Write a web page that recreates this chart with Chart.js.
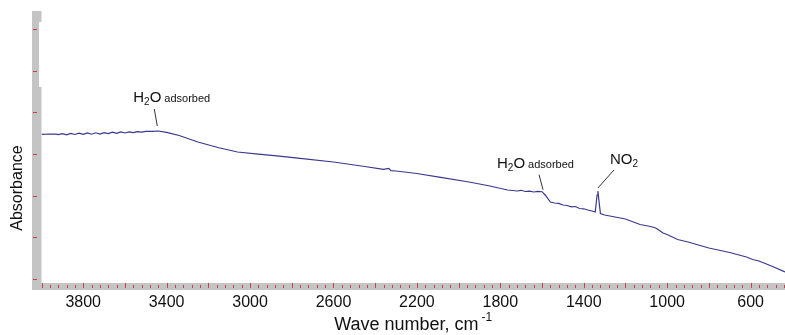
<!DOCTYPE html>
<html>
<head>
<meta charset="utf-8">
<script src="https://cdn.jsdelivr.net/npm/chart.js@4.4.1/dist/chart.umd.min.js"></script>
<style>
html, body { margin: 0; padding: 0; background: #fff; }
canvas { display: block; }
</style>
</head>
<body>
<canvas id="chart" width="785" height="335"></canvas>
<script>
// spectrum (wave number, absorbance)
var waveNumbers = [4000, 3960, 3930, 3920, 3900, 3880, 3860, 3840, 3820, 3800, 3780, 3760, 3740, 3720, 3700,
    3680, 3660, 3640, 3620, 3600, 3580, 3560, 3540, 3520, 3500, 3470, 3440, 3400, 3340, 3250,
    3150, 3060, 2960, 2860, 2760, 2600, 2450, 2360, 2335, 2325, 2300, 2200, 2086, 1950, 1850,
    1765, 1720, 1700, 1680, 1660, 1640, 1620, 1600, 1585, 1560, 1540, 1520, 1500, 1480, 1460,
    1440, 1420, 1400, 1380, 1360, 1345, 1336, 1332, 1328, 1320, 1300, 1250, 1200, 1130, 1080,
    1055, 1040, 1020, 1000, 950, 900, 850, 800, 700, 620, 590, 560, 500, 435];
var absorbance = [0.3473, 0.3480, 0.3475, 0.3465, 0.3489, 0.3461, 0.3494, 0.3468, 0.3499, 0.3470, 0.3504, 0.3475, 0.3509, 0.3480, 0.3513,
    0.3489, 0.3523, 0.3494, 0.3532, 0.3504, 0.3532, 0.3513, 0.3537, 0.3523, 0.3542, 0.3542, 0.3552, 0.3518, 0.3444, 0.3288,
    0.3149, 0.3048, 0.2995, 0.2947, 0.2897, 0.2808, 0.2700, 0.2633, 0.2654, 0.2601, 0.2592, 0.2532, 0.2441, 0.2328, 0.2232,
    0.2136, 0.2112, 0.2129, 0.2100, 0.2107, 0.2088, 0.2102, 0.2095, 0.2016, 0.1848, 0.1824, 0.1814, 0.1776, 0.1764, 0.1733,
    0.1740, 0.1692, 0.1685, 0.1656, 0.1632, 0.1608, 0.2016, 0.2112, 0.1920, 0.1572, 0.1536, 0.1488, 0.1440, 0.1308, 0.1260,
    0.1224, 0.1176, 0.1104, 0.1068, 0.0948, 0.0888, 0.0816, 0.0744, 0.0636, 0.0528, 0.0468, 0.0432, 0.0312, 0.0170];

var xTickValues = [3800, 3400, 3000, 2600, 2200, 1800, 1400, 1000, 600];
var yTickValues = [0, 0.1, 0.2, 0.3, 0.4, 0.5, 0.6];

// labelled bands: where they point to, and the text pieces
var noteWave = [3440, 1600, 1332];
var noteAbs = [0.3552, 0.2095, 0.2112];
var noteMain = ["H", "H", "NO"];
var noteSub = ["2", "2", "2"];
var noteTail = ["O", "O", ""];
var noteSmall = ["adsorbed", "adsorbed", ""];

var points = waveNumbers.map(function (w, i) {
    return { x: w, y: absorbance[i] };
});

// text offsets from the pointed-at spot, and leader line ends
var noteText = [[-25, -29], [-45, -24], [12, -27]];
var noteLine = [[-4, -22, -1, -5], [-3, -17, 1, -2], [16, -21, 0, -3]];

var FONT = "'Liberation Sans', Arial, sans-serif";

var frame = {
    id: 'frame',
    afterDraw: function (chart) {
        var ctx = chart.ctx;
        var xs = chart.scales.x;
        var ys = chart.scales.y;
        var area = chart.chartArea;
        ctx.save();

        // grey axis bars
        ctx.fillStyle = '#c4c4c4';
        ctx.fillRect(32, area.top, area.left - 32, 290 - area.top);
        ctx.fillRect(32, area.bottom, area.right - 32, 7);
        ctx.fillStyle = '#fff';
        ctx.fillRect(39, 22, 3, 65);

        // red tick marks
        ctx.strokeStyle = '#c0434b';
        ctx.lineWidth = 1;
        yTickValues.forEach(function (v) {
            var py = Math.round(ys.getPixelForValue(v)) + 0.5;
            ctx.beginPath();
            ctx.moveTo(33, py);
            ctx.lineTo(37, py);
            ctx.stroke();
        });
        for (var w = 4000; w >= xs.min; w -= 40) {
            var px = Math.round(xs.getPixelForValue(w)) + 0.5;
            var major = w % 200 === 0;
            ctx.beginPath();
            ctx.moveTo(px, area.bottom + (major ? 0 : 2));
            ctx.lineTo(px, area.bottom + 5);
            ctx.stroke();
        }

        // notes
        ctx.fillStyle = '#111';
        ctx.strokeStyle = '#333';
        ctx.textBaseline = 'alphabetic';
        ctx.textAlign = 'left';
        for (var i = 0; i < noteWave.length; i++) {
            var ax = xs.getPixelForValue(noteWave[i]);
            var ay = ys.getPixelForValue(noteAbs[i]);
            var l = noteLine[i];
            ctx.beginPath();
            ctx.moveTo(ax + l[0], ay + l[1]);
            ctx.lineTo(ax + l[2], ay + l[3]);
            ctx.stroke();

            var tx = ax + noteText[i][0];
            var ty = ay + noteText[i][1];
            ctx.font = '15px ' + FONT;
            ctx.fillText(noteMain[i], tx, ty);
            tx += ctx.measureText(noteMain[i]).width;
            ctx.font = '10px ' + FONT;
            ctx.fillText(noteSub[i], tx, ty + 3);
            tx += ctx.measureText(noteSub[i]).width;
            ctx.font = '15px ' + FONT;
            ctx.fillText(noteTail[i], tx, ty);
            tx += ctx.measureText(noteTail[i]).width + 3;
            ctx.font = '11px ' + FONT;
            ctx.fillText(noteSmall[i], tx, ty);
        }

        // axis titles
        ctx.fillStyle = '#111';
        ctx.font = '18px ' + FONT;
        var t1 = 'Wave number, cm';
        var w1 = ctx.measureText(t1).width;
        ctx.font = '12px ' + FONT;
        var w2 = ctx.measureText('-1').width;
        var cx = (area.left + area.right) / 2 - (w1 + 3 + w2) / 2;
        ctx.font = '18px ' + FONT;
        ctx.fillText(t1, cx, 330);
        ctx.font = '12px ' + FONT;
        ctx.fillText('-1', cx + w1 + 3, 321);

        ctx.translate(18, 188);
        ctx.rotate(-Math.PI / 2);
        ctx.textAlign = 'center';
        ctx.textBaseline = 'middle';
        ctx.font = '16px ' + FONT;
        ctx.fillText('Absorbance', 0, 0);
        ctx.restore();
    }
};

new Chart(document.getElementById('chart'), {
    type: 'line',
    data: {
        datasets: [{
            data: points,
            borderColor: '#38388f',
            borderWidth: 1.2,
            pointRadius: 0,
            tension: 0
        }]
    },
    options: {
        responsive: false,
        animation: false,
        devicePixelRatio: 1,
        layout: { padding: { top: 11, right: 0, left: 0, bottom: 0 } },
        plugins: { legend: { display: false }, tooltip: { enabled: false } },
        scales: {
            x: {
                type: 'linear',
                position: 'bottom',
                reverse: true,
                min: 435,
                max: 4000,
                afterBuildTicks: function (s) {
                    s.ticks = xTickValues.map(function (v) { return { value: v }; });
                },
                afterFit: function (s) { s.height = 52; },
                grid: { display: false, drawTicks: false },
                border: { display: false },
                ticks: {
                    autoSkip: false,
                    maxRotation: 0,
                    padding: 10,
                    color: '#111',
                    font: { family: FONT, size: 16 },
                    callback: function (v) { return String(v); }
                }
            },
            y: {
                min: -0.0096,
                max: 0.6432,
                afterFit: function (s) { s.width = 41.5; },
                grid: { display: false },
                border: { display: false },
                ticks: { display: false }
            }
        }
    },
    plugins: [frame]
});
</script>
</body>
</html>
